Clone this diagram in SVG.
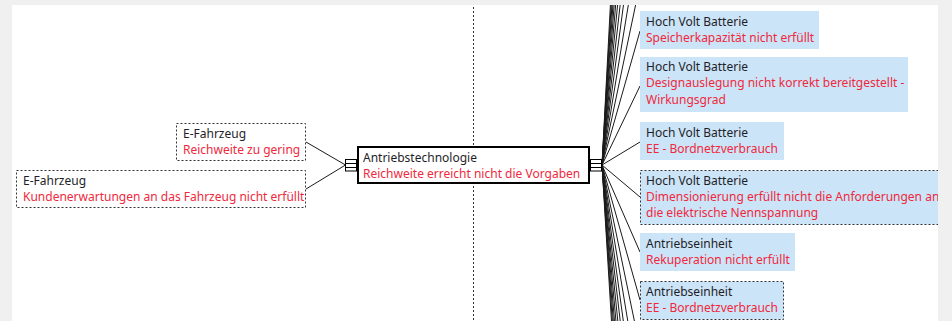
<svg xmlns="http://www.w3.org/2000/svg" width="952" height="321" viewBox="0 0 952 321">
  <style>
    text { font-family: "Noto Sans", "Liberation Sans", sans-serif; font-size: 12px; }
    .t { fill: #1e1e28; }
    .r { fill: #f0283c; }
    .plain { fill: #ffffff; stroke: #333333; stroke-width: 1; stroke-dasharray: 2 2; }
    .sel { fill: #cce4f7; stroke: none; }
    .seld { fill: #cce4f7; stroke: #333333; stroke-width: 1; stroke-dasharray: 2 2; }
    .main { fill: #ffffff; stroke: #000000; stroke-width: 2; }
    .link { stroke: #1a1a1a; stroke-width: 1; fill: none; }
    .axis { stroke: #333333; stroke-width: 1; stroke-dasharray: 2 2; fill: none; }
    .port { fill: #ffffff; stroke: #000000; stroke-width: 1; }
  </style>
  <defs>
    <clipPath id="canvas">
      <rect x="12" y="5" width="926" height="316"/>
    </clipPath>
  </defs>

  <!-- window frame -->
  <rect x="0" y="0" width="952" height="321" fill="#f0f0f0"/>
  <rect x="12" y="5" width="926" height="316" fill="#ffffff"/>

  <g clip-path="url(#canvas)">
    <!-- time axis -->
    <g id="axis">
      <line class="axis" x1="473.5" y1="7" x2="473.5" y2="146"/>
      <line class="axis" x1="473.5" y1="186" x2="473.5" y2="321"/>
    </g>

    <!-- connectors -->
    <g id="connectors">
      <line class="link" x1="306" y1="142" x2="345.5" y2="165"/>
      <line class="link" x1="306" y1="189" x2="345.5" y2="165"/>

      <line class="link" x1="602" y1="165" x2="640" y2="31"/>
      <line class="link" x1="602" y1="165" x2="640" y2="86"/>
      <line class="link" x1="602" y1="165" x2="640" y2="142"/>
      <line class="link" x1="602" y1="165" x2="640" y2="197"/>
      <line class="link" x1="602" y1="165" x2="640" y2="252"/>
      <line class="link" x1="602" y1="165" x2="640" y2="300"/>

      <!-- branches to entries above the visible area -->
      <line class="link" x1="602" y1="165" x2="640" y2="-16"/>
      <line class="link" x1="602" y1="165" x2="640" y2="-66"/>
      <line class="link" x1="602" y1="165" x2="640" y2="-118"/>
      <line class="link" x1="602" y1="165" x2="640" y2="-170"/>
      <line class="link" x1="602" y1="165" x2="640" y2="-225"/>
      <line class="link" x1="602" y1="165" x2="640" y2="-280"/>
      <line class="link" x1="602" y1="165" x2="640" y2="-335"/>
      <line class="link" x1="602" y1="165" x2="640" y2="-390"/>
      <line class="link" x1="602" y1="165" x2="640" y2="-445"/>
      <line class="link" x1="602" y1="165" x2="640" y2="-500"/>
      <line class="link" x1="602" y1="165" x2="640" y2="-560"/>

      <!-- branches to entries below the visible area -->
      <line class="link" x1="602" y1="165" x2="640" y2="348"/>
      <line class="link" x1="602" y1="165" x2="640" y2="395"/>
      <line class="link" x1="602" y1="165" x2="640" y2="443"/>
      <line class="link" x1="602" y1="165" x2="640" y2="490"/>
      <line class="link" x1="602" y1="165" x2="640" y2="540"/>
      <line class="link" x1="602" y1="165" x2="640" y2="590"/>
      <line class="link" x1="602" y1="165" x2="640" y2="640"/>
      <line class="link" x1="602" y1="165" x2="640" y2="690"/>
      <line class="link" x1="602" y1="165" x2="640" y2="740"/>
      <line class="link" x1="602" y1="165" x2="640" y2="790"/>
    </g>

    <!-- causes on the left -->
    <g id="cause-reichweite">
      <rect class="plain" x="176.5" y="123.5" width="129" height="37"/>
      <text class="t" x="183" y="137.5">E-Fahrzeug</text>
      <text class="r" x="183" y="153.9">Reichweite zu gering</text>
    </g>
    <g id="cause-kunden">
      <rect class="plain" x="16.5" y="170.5" width="289" height="37"/>
      <text class="t" x="23" y="184.5">E-Fahrzeug</text>
      <text class="r" x="23" y="200.9">Kundenerwartungen an das Fahrzeug nicht erfüllt</text>
    </g>

    <!-- focus element -->
    <g id="focus">
      <rect class="port" x="345.5" y="159.5" width="11" height="11.5"/>
      <line class="port" x1="346" y1="163.5" x2="356" y2="163.5"/>
      <line class="port" x1="346" y1="167.5" x2="356" y2="167.5"/>
      <rect class="port" x="590.5" y="159.5" width="11" height="11.5"/>
      <line class="port" x1="591" y1="163.5" x2="601" y2="163.5"/>
      <line class="port" x1="591" y1="167.5" x2="601" y2="167.5"/>
      <rect class="main" x="358" y="147" width="231" height="36"/>
      <text class="t" x="363" y="161.5">Antriebstechnologie</text>
      <text class="r" x="363" y="177.9">Reichweite erreicht nicht die Vorgaben</text>
    </g>

    <!-- effects on the right -->
    <g id="effect-speicher">
      <rect class="sel" x="640" y="11" width="179" height="38"/>
      <text class="t" x="646" y="25.5">Hoch Volt Batterie</text>
      <text class="r" x="646" y="41.9">Speicherkapazität nicht erfüllt</text>
    </g>
    <g id="effect-design">
      <rect class="sel" x="640" y="57" width="268" height="55"/>
      <text class="t" x="646" y="71">Hoch Volt Batterie</text>
      <text class="r" x="646" y="87.4">Designauslegung nicht korrekt bereitgestellt -</text>
      <text class="r" x="646" y="103.8">Wirkungsgrad</text>
    </g>
    <g id="effect-bordnetz-hv">
      <rect class="sel" x="640" y="122" width="144" height="38"/>
      <text class="t" x="646" y="136.5">Hoch Volt Batterie</text>
      <text class="r" x="646" y="152.9">EE - Bordnetzverbrauch</text>
    </g>
    <g id="effect-dimension">
      <rect class="seld" x="640.5" y="170.5" width="320" height="54"/>
      <text class="t" x="646" y="184.5">Hoch Volt Batterie</text>
      <text class="r" x="646" y="200.9">Dimensionierung erfüllt nicht die Anforderungen an</text>
      <text class="r" x="646" y="217.3">die elektrische Nennspannung</text>
    </g>
    <g id="effect-rekuperation">
      <rect class="sel" x="640" y="233" width="155" height="38"/>
      <text class="t" x="646" y="247.5">Antriebseinheit</text>
      <text class="r" x="646" y="263.9">Rekuperation nicht erfüllt</text>
    </g>
    <g id="effect-bordnetz-ae">
      <rect class="seld" x="640.5" y="281.5" width="143" height="38"/>
      <text class="t" x="646" y="295.5">Antriebseinheit</text>
      <text class="r" x="646" y="311.9">EE - Bordnetzverbrauch</text>
    </g>
  </g>
</svg>
